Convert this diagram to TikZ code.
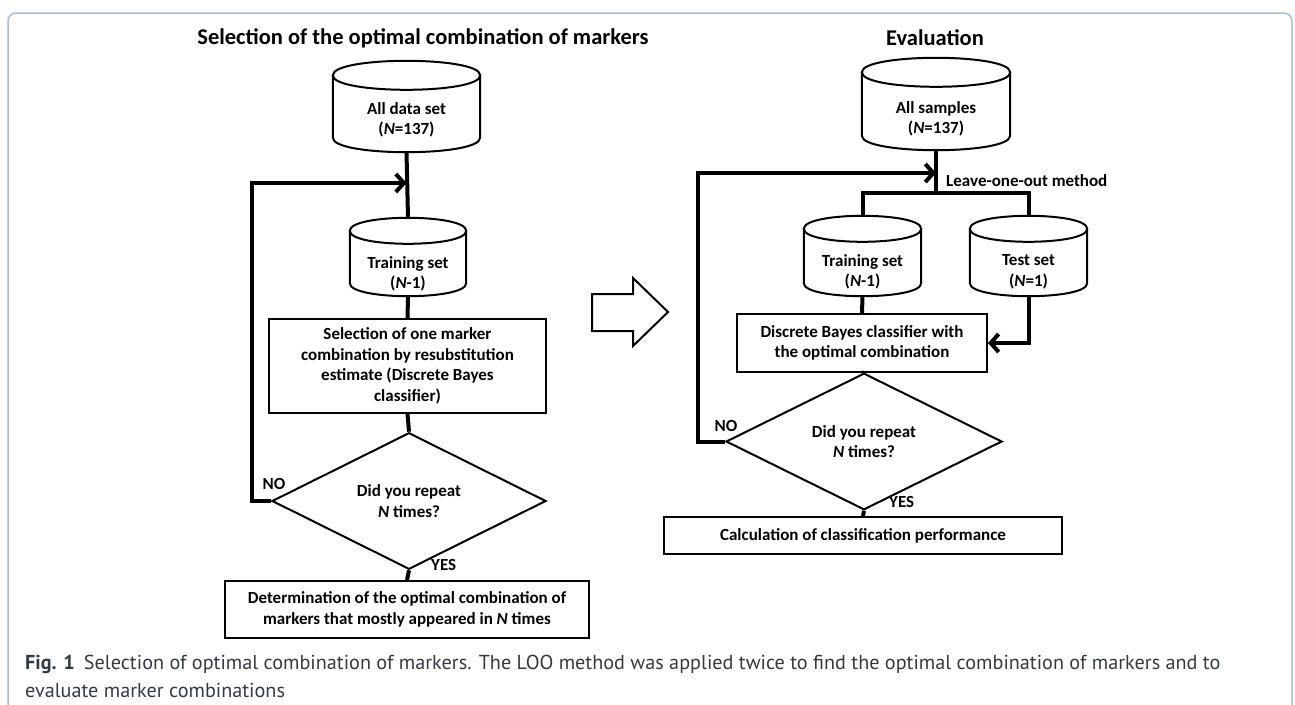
\documentclass[tikz,border=0pt]{standalone}
\usepackage{fontspec}
\setmainfont{Carlito}
\newfontfamily\capfont{PT Sans}
\usetikzlibrary{shapes.geometric,arrows.meta,calc}
\definecolor{framec}{RGB}{170,190,208}
\definecolor{capc}{RGB}{52,58,66}
\newcommand{\txtf}{\bfseries\fontsize{17}{20.5}\selectfont}
\newcommand{\drawcyl}[2]{%
  \draw[shapeline] ($(#1.north west)+(0,#2)$) .. controls ($(#1.north west)+(0,-#2/3)$) and ($(#1.north east)+(0,-#2/3)$) .. ($(#1.north east)+(0,#2)$)
     .. controls ($(#1.north east)+(0,#2*7/3)$) and ($(#1.north west)+(0,#2*7/3)$) .. cycle;
  \draw[shapeline] ($(#1.north west)+(0,#2)$) -- ($(#1.south west)+(0,-#2)$)
     .. controls ($(#1.south west)+(0,#2/3)$) and ($(#1.south east)+(0,#2/3)$) .. ($(#1.south east)+(0,-#2)$)
     -- ($(#1.north east)+(0,#2)$);
}
\tikzset{
  conn/.style={line width=4pt},
  arr/.style={line width=4pt, -{Straight Barb[length=8pt,width=18pt]}},
  shapeline/.style={line width=2pt},
  boxn/.style={draw, line width=2pt, inner sep=0pt, align=center, font=\txtf},
  cylbox/.style={inner sep=0pt},
  cyltext/.style={inner sep=0pt, align=center, font=\txtf},
  dia/.style={diamond, draw, line width=2pt, inner sep=0pt, align=center, font=\txtf},
  lab/.style={inner sep=0pt, font=\txtf},
  ttl/.style={inner sep=0pt, font=\bfseries\fontsize{22.5}{26}\selectfont},
}
\begin{document}
\begin{tikzpicture}[x=1pt,y=-1pt]
\useasboundingbox (0,0) rectangle (1295,704);
\fill[white] (0,0) rectangle (1295,704);
\draw[framec, line width=1.5pt, rounded corners=8pt] (8,712) -- (8,13) -- (1292,13) -- (1292,712);

% ---------- left chart ----------
\node[ttl] (t1) at (423,38) {Selection of the optimal combination of markers};
\node[cylbox, minimum width=147pt, minimum height=91pt] (cylA) at (406.5,106.5) {};
\node[cyltext] (cylAt) at (406.5,120) {All data set\\(\textit{N}=137)};
\node[cylbox, minimum width=116pt, minimum height=78pt] (cylT) at (408,257) {};
\node[cyltext] (cylTt) at (408,274) {Training set\\(\textit{N}-1)};
\node[boxn, minimum width=277pt, minimum height=94pt] (box1) at (407.5,366) {Selection of one marker\\combination by resubstitution\\estimate (Discrete Bayes\\classifier)};
\node[dia, minimum width=274pt, minimum height=94pt] (dia1) at (409,501) {Did you repeat\\\textit{N} times?};
\node[boxn, minimum width=364pt, minimum height=57pt] (box2) at (407,609.5) {Determination of the optimal combination of\\markers that mostly appeared in \textit{N} times};
\node[lab] (no1) at (274,484) {NO};
\node[lab, anchor=west] (yes1) at (431,565) {YES};
\coordinate (j1) at (cylA.south |- 0,183);

\drawcyl{cylA}{14.5}
\drawcyl{cylT}{13}
\draw[conn] (cylA.south) -- (cylT.north);
\draw[conn] (cylT.south) -- (box1.north);
\draw[conn] (box1.south) -- (dia1.north);
\draw[conn] (dia1.south) -- (box2.north);
\draw[arr] (dia1.west) -- ++(-19,0) |- (j1);

% ---------- block arrow ----------
\draw[line width=2pt, line join=miter] (592,294) -- (633,294) -- (633,278) -- (668,312) -- (633,346) -- (633,331) -- (592,331) -- cycle;

% ---------- right chart ----------
\node[ttl] (t2) at (935,38) {Evaluation};
\node[cylbox, minimum width=148pt, minimum height=92pt] (cylS) at (936,104) {};
\node[cyltext] (cylSt) at (936,119) {All samples\\(\textit{N}=137)};
\node[cylbox, minimum width=117pt, minimum height=80pt] (cylT2) at (862.5,256) {};
\node[cyltext] (cylT2t) at (862.5,272) {Training set\\(\textit{N}-1)};
\node[cylbox, minimum width=117pt, minimum height=80pt] (cylTe) at (1028.5,256) {};
\node[cyltext] (cylTet) at (1028.5,272) {Test set\\(\textit{N}=1)};
\node[boxn, minimum width=250pt, minimum height=58pt] (box3) at (862,343) {Discrete Bayes classifier with\\the optimal combination};
\node[dia, minimum width=276pt, minimum height=95pt] (dia2) at (864,441.5) {Did you repeat\\\textit{N} times?};
\node[boxn, minimum width=398pt, minimum height=37pt] (box4) at (863,535.5) {Calculation of classification performance};
\node[lab, anchor=west] (loo) at (946,181) {Leave-one-out method};
\node[lab] (no2) at (726,426) {NO};
\node[lab, anchor=west] (yes2) at (889,502) {YES};
\coordinate (j2) at (cylS.south |- 0,173);
\coordinate (b2) at (cylS.south |- 0,193);

\drawcyl{cylS}{14.5}
\drawcyl{cylT2}{13}
\drawcyl{cylTe}{13}
\draw[conn] (cylS.south) -- (b2);
\draw[conn, line join=miter] (cylT2.north) |- (b2) -| (cylTe.north);
\draw[arr] (cylTe.south) |- (box3.east);
\draw[conn] (cylT2.south) -- (box3.north);
\draw[conn] (box3.south) -- (dia2.north);
\draw[conn] (dia2.south) -- (box4.north);
\draw[arr] (dia2.west) -- ++(-27,0) |- (j2);

% ---------- caption ----------
\node[anchor=base west, align=left, inner sep=0pt, text=capc, font=\capfont\fontsize{20.2}{28}\selectfont] (cap) at (25,697)
 {{\bfseries Fig. 1}\hspace{9pt}Selection of optimal combination of markers. The LOO method was applied twice to find the optimal combination of markers and to\\evaluate marker combinations};
\end{tikzpicture}
\end{document}
